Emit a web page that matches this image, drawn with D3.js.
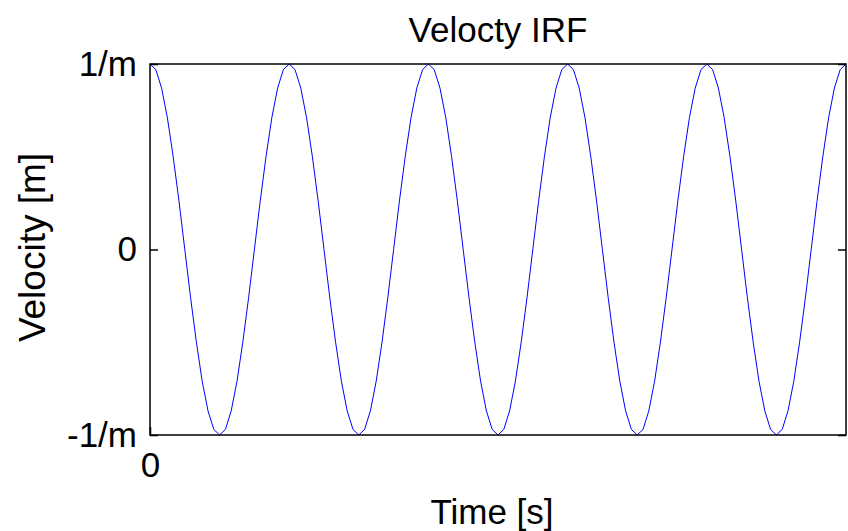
<!DOCTYPE html>
<html>
<head>
<meta charset="utf-8">
<script src="https://cdn.jsdelivr.net/npm/d3@7"></script>
<style>
  body { margin: 0; background: #fff; }
  text { font-family: "Liberation Sans", Arial, sans-serif; }
</style>
</head>
<body>
<div id="chart"></div>
<script>
// data: 5 full swings, 24 samples per swing
var velocity = [
  1, 0.97, 0.87, 0.71, 0.5, 0.26, 0, -0.26, -0.5, -0.71, -0.87, -0.97,
  -1, -0.97, -0.87, -0.71, -0.5, -0.26, 0, 0.26, 0.5, 0.71, 0.87, 0.97,
  1, 0.97, 0.87, 0.71, 0.5, 0.26, 0, -0.26, -0.5, -0.71, -0.87, -0.97,
  -1, -0.97, -0.87, -0.71, -0.5, -0.26, 0, 0.26, 0.5, 0.71, 0.87, 0.97,
  1, 0.97, 0.87, 0.71, 0.5, 0.26, 0, -0.26, -0.5, -0.71, -0.87, -0.97,
  -1, -0.97, -0.87, -0.71, -0.5, -0.26, 0, 0.26, 0.5, 0.71, 0.87, 0.97,
  1, 0.97, 0.87, 0.71, 0.5, 0.26, 0, -0.26, -0.5, -0.71, -0.87, -0.97,
  -1, -0.97, -0.87, -0.71, -0.5, -0.26, 0, 0.26, 0.5, 0.71, 0.87, 0.97,
  1, 0.97, 0.87, 0.71, 0.5, 0.26, 0, -0.26, -0.5, -0.71, -0.87, -0.97,
  -1, -0.97, -0.87, -0.71, -0.5, -0.26, 0, 0.26, 0.5, 0.71, 0.87, 0.97,
  1
];
var yTickValues = [-1, 0, 1];
var yTickLabels = ["-1/m", "0", "1/m"];
var xTickValues = [0];
var xTickLabels = ["0"];

var margin = {top: 64, right: 2, bottom: 96, left: 150},
    width = 848 - margin.left - margin.right,
    height = 531 - margin.top - margin.bottom;

var fontSize = 35;

var svg = d3.select("#chart").append("svg")
    .attr("width", 848)
    .attr("height", 531)
    .append("g")
    .attr("transform", "translate(" + margin.left + "," + margin.top + ")");

// x is the sample index
var x = d3.scaleLinear().domain([0, velocity.length - 1]).range([0, width]);
var y = d3.scaleLinear().domain([-1, 1]).range([height, 0]);

// the curve
var line = d3.line()
    .x(function(d, i) { return x(i); })
    .y(function(d) { return y(d); });

svg.append("path")
    .datum(velocity)
    .attr("fill", "none")
    .attr("stroke", "#0000ff")
    .attr("stroke-width", 1)
    .attr("d", line);

// box
svg.append("rect")
    .attr("width", width)
    .attr("height", height)
    .attr("fill", "none")
    .attr("stroke", "#000")
    .attr("stroke-width", 1.5);

// left axis, ticks pointing in
var yAxis = svg.append("g")
    .call(d3.axisLeft(y)
        .tickValues(yTickValues)
        .tickFormat(function(d, i) { return yTickLabels[i]; })
        .tickSizeInner(-8)
        .tickSizeOuter(0)
        .tickPadding(13));

// right axis, ticks only
var yAxisR = svg.append("g")
    .attr("transform", "translate(" + width + ",0)")
    .call(d3.axisRight(y)
        .tickValues(yTickValues)
        .tickFormat("")
        .tickSizeInner(-8)
        .tickSizeOuter(0));

// bottom axis
var xAxis = svg.append("g")
    .attr("transform", "translate(0," + height + ")")
    .call(d3.axisBottom(x)
        .tickValues(xTickValues)
        .tickFormat(function(d, i) { return xTickLabels[i]; })
        .tickSizeInner(-8)
        .tickSizeOuter(0)
        .tickPadding(17));

[yAxis, yAxisR, xAxis].forEach(function(g) {
    g.select(".domain").remove();
    g.selectAll(".tick line").attr("stroke", "#000").attr("stroke-width", 1.5);
    g.selectAll(".tick text")
        .attr("fill", "#000")
        .style("font-size", fontSize + "px")
        .style("font-family", "'Liberation Sans', Arial, sans-serif");
});

// title and labels
svg.append("text")
    .text("Velocty IRF")
    .attr("x", width / 2)
    .attr("y", 42 - margin.top)
    .attr("text-anchor", "middle")
    .style("font-size", fontSize + "px");

svg.append("text")
    .text("Time [s]")
    .attr("x", width / 2 - 6)
    .attr("y", 524 - margin.top)
    .attr("text-anchor", "middle")
    .style("font-size", fontSize + "px");

svg.append("text")
    .text("Velocity [m]")
    .attr("transform", "translate(" + (45 - margin.left) + "," + (height / 2 - 2) + ") rotate(-90)")
    .attr("text-anchor", "middle")
    .style("font-size", "37px");
</script>
</body>
</html>
